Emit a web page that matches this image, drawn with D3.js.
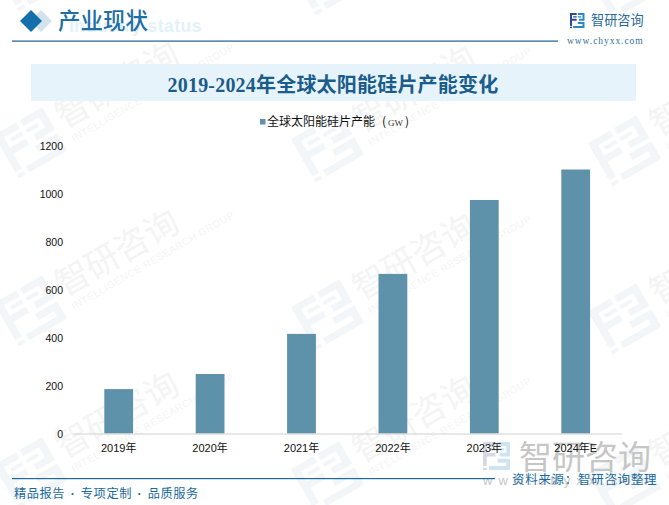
<!DOCTYPE html>
<html><head><meta charset="utf-8">
<style>html,body{margin:0;padding:0;background:#fff}svg{display:block}</style>
<script src="https://cdn.jsdelivr.net/npm/d3@7/dist/d3.min.js"></script></head><body>
<div id="c"></div>
<script>
const categories=["2019年","2020年","2021年","2022年","2023年","2024年E"];
const capacity=[185,248,415,665,973,1100];
const yTicks=[0,200,400,600,800,1000,1200];
const chartTitle="2019-2024年全球太阳能硅片产能变化";
const legendName="全球太阳能硅片产能";
const legendUnit="GW";
const footerParts=["精品报告","专项定制","品质服务"];
const watermarkX=[30,327,624];
const watermarkY=[-25,142,310,472];

const cjk='"Noto Sans CJK SC","Noto Sans",sans-serif';
const W=669,H=505;
const svg=d3.select("#c").append("svg").attr("width",W).attr("height",H);

const logoDark="M0 0H46V14H14V38H46V52H14V86H0Z M22 22H46V30H22Z M0 92H14V100H0Z";
const logoLight="M54 0H100V52H62V38H86V14H54Z M54 22H78V30H54Z M54 60H100V100H22V86H86V74H54Z";

const wm=svg.append("g");
watermarkX.forEach((x,i)=>watermarkY.forEach((y,j)=>{
  const g=wm.append("g").attr("transform",`translate(${x},${y+i*4}) rotate(-30)`);
  g.append("path").attr("d",logoDark+logoLight).attr("fill","#f3f6f9").attr("transform","translate(-28,-24) scale(.56,.5)");
  if(j===0) return;
  g.append("text").attr("x",36).attr("y",6).attr("font-family",cjk).attr("font-size",34)
    .attr("font-weight",400).attr("fill","#f4f4f4").text("智研咨询");
  g.append("text").attr("x",38).attr("y",22).attr("font-family","Liberation Sans").attr("font-size",10)
    .attr("letter-spacing",.6).attr("fill","#f4f5f6").text("INTELLIGENCE RESEARCH GROUP");
}));

// bottom-right brand mark, under the chart
const blg=svg.append("g").attr("transform","translate(483,442)");
blg.append("path").attr("d",logoDark).attr("fill","#d4d9e6").attr("transform","scale(.27,.28)");
blg.append("path").attr("d",logoLight).attr("fill","#cfe4f1").attr("transform","scale(.27,.28)");
svg.append("text").attr("x",519).attr("y",469).attr("font-family",cjk).attr("font-size",33).attr("fill","#c6c6c6").text("智研咨询");
svg.append("text").attr("x",483).attr("y",485).attr("font-family","Liberation Sans").attr("font-size",13)
  .attr("letter-spacing",6).attr("fill","#c6c6c6").text("www.chyxx.com");

// header
svg.append("text").attr("x",69).attr("y",32).attr("font-family","Liberation Sans").attr("font-weight",700)
  .attr("font-size",17.5).attr("letter-spacing",.5).attr("fill","#e3f1fa").text("Industry status");
const diamond=(cx,cy,r,f)=>svg.append("path").attr("d",`M${cx-r} ${cy}L${cx} ${cy-r}L${cx+r} ${cy}L${cx} ${cy+r}Z`).attr("fill",f);
diamond(41,21,11,"#d3e3ee");
diamond(31,21,11,"#1470ab");
svg.append("text").attr("x",58).attr("y",29).attr("font-family",cjk).attr("font-size",22.5).attr("font-weight",500)
  .attr("fill","#1f6fa3").text("产业现状");
svg.append("rect").attr("x",12).attr("y",40.5).attr("width",546).attr("height",1.2).attr("fill","#1d5f88");
const lg=svg.append("g").attr("transform","translate(570,13)");
lg.append("path").attr("d",logoDark).attr("fill","#2c4a94").attr("transform","scale(.145,.15)");
lg.append("path").attr("d",logoLight).attr("fill","#2d87c6").attr("transform","scale(.145,.15)");
svg.append("text").attr("x",591).attr("y",25).attr("font-family",cjk).attr("font-size",13.2).attr("fill","#2a6a9a").text("智研咨询");
svg.append("text").attr("x",567).attr("y",44).attr("font-family","Liberation Serif").attr("font-size",9.5)
  .attr("letter-spacing",.95).attr("fill","#2f6f9c").text("www.chyxx.com");

// title band
svg.append("rect").attr("x",31).attr("y",64).attr("width",605).attr("height",37).attr("fill","#e6f3fb");
svg.append("text").attr("x",333).attr("y",91.5).attr("text-anchor","middle").attr("font-size",20)
  .attr("letter-spacing",.2).attr("font-weight",700).attr("fill","#1a5c8a").attr("font-family",'"Liberation Serif","Noto Sans CJK SC",serif')
  .text(chartTitle);

// chart
const x=d3.scaleBand().domain(categories).range([73,621.4]).paddingInner(.685).paddingOuter(.3425);
const y=d3.scaleLinear().domain([0,1200]).range([433.5,145.5]);
svg.append("g").selectAll("rect").data(capacity).join("rect")
  .attr("x",(d,i)=>x(categories[i])).attr("width",x.bandwidth())
  .attr("y",d=>y(d)).attr("height",d=>y(0)-y(d)).attr("fill","#5e92aa");

const ya=svg.append("g").attr("transform","translate(63,0.8)")
  .call(d3.axisLeft(y).tickValues(yTicks).tickFormat(d3.format("d")).tickSize(0).tickPadding(0));
ya.select(".domain").remove();
ya.selectAll("text").attr("font-family","Liberation Sans").attr("font-size",10.5).attr("fill","#111");

const xa=svg.append("g").attr("transform","translate(0,433.5)")
  .call(d3.axisBottom(x).tickSize(0).tickPadding(11));
xa.select(".domain").attr("stroke","#d0d0d0").attr("stroke-width",1);
xa.selectAll("text").attr("font-family",'"Liberation Sans","Noto Sans CJK SC",sans-serif').attr("font-size",11).attr("fill","#111");

// legend
svg.append("rect").attr("x",260).attr("y",119).attr("width",5.5).attr("height",5.5).attr("fill","#5e92aa");
const lt=svg.append("text").attr("x",267).attr("y",125.5).attr("font-family",cjk).attr("font-size",12).attr("fill","#111");
lt.append("tspan").text(legendName);
lt.append("tspan").attr("dx",7).text("(");
lt.append("tspan").attr("dx",2).attr("font-size",9).attr("font-family","Liberation Serif").attr("fill","#333").text(legendUnit);
lt.append("tspan").attr("dx",2).text(")");

// footer
svg.append("rect").attr("x",12).attr("y",478).attr("width",483).attr("height",1.2).attr("fill","#1b6a9c");
const ft=svg.append("text").attr("x",14).attr("y",498).attr("font-family",cjk).attr("font-size",12.2)
  .attr("letter-spacing",.6).attr("fill","#1b6a9c");
footerParts.forEach((p,i)=>{
  if(i>0) ft.append("tspan").attr("dx",5.5).attr("font-family","Liberation Sans").attr("font-weight",700).text("·");
  ft.append("tspan").attr("dx",i>0?5.5:0).text(p);
});
svg.append("text").attr("x",512).attr("y",484).attr("font-family",cjk).attr("font-size",12.5)
  .attr("letter-spacing",.7).attr("fill","#1b6a9c").text("资料来源：智研咨询整理");
</script></body></html>
